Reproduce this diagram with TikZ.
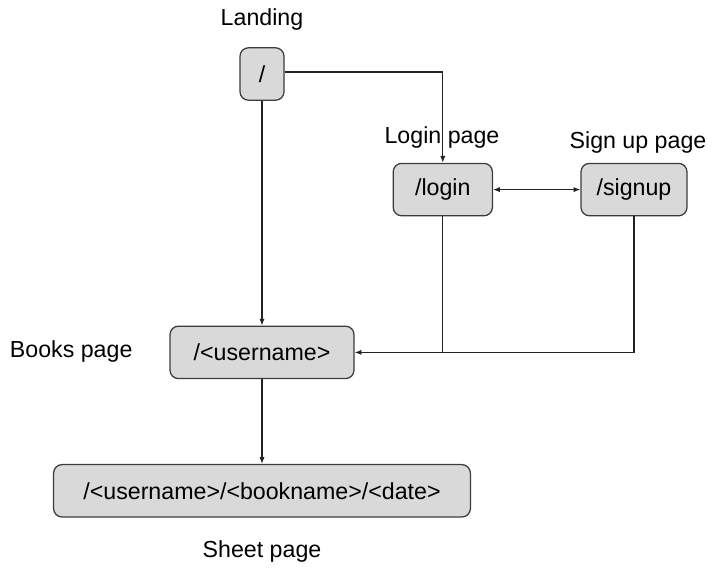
\documentclass[tikz,border=0pt]{standalone}
\usepackage{fontspec}
\setmainfont{Liberation Sans}
\usetikzlibrary{arrows.meta}
\definecolor{pagefill}{HTML}{D9D9D9}
\definecolor{pageborder}{HTML}{3C3C3C}
\definecolor{darkline}{HTML}{222222}
\tikzset{
  card/.style={rectangle, rounded corners=6pt, align=center, fill=pagefill, draw=pageborder, line width=0.9pt, minimum height=1.31cm, inner sep=0pt, font=\fontsize{16.5}{20}\selectfont},
  caption/.style={font=\fontsize{16.5}{20}\selectfont, align=center},
  flow/.style={-{Latex[length=1.7mm, width=1.3mm]}, line width=0.8pt, draw=darkline},
  twoway/.style={{Latex[length=1.7mm, width=1.3mm]}-{Latex[length=1.7mm, width=1.3mm]}, line width=0.8pt, draw=darkline}
}
\begin{document}
\begin{tikzpicture}

\useasboundingbox (0,0) rectangle (17.975,14.4);

% Captions.
\node[caption] (landinglab) at (6.55,13.9) {Landing};
\node[caption] (loginlab) at (11.05,10.95) {Login page};
\node[caption] (signuplab) at (15.95,10.83) {Sign up page};
\node[caption] (bookslab) at (1.78,5.6) {Books page};
\node[caption] (sheetlab) at (6.55,0.6) {Sheet page};

% Pages.
\node[card, minimum width=1.1cm] (root) at (6.55,12.55) {/};
\node[card, minimum width=2.48cm] (login) at (11.07,9.66) {/login};
\node[card, minimum width=2.65cm] (signup) at (15.85,9.66) {/signup};
\node[card, minimum width=4.6cm] (books) at (6.55,5.59) {/<username>};
\node[card, minimum width=10.42cm] (sheet) at (6.55,2.13) {/<username>/<bookname>/<date>};

% Routes.
\draw[flow] ([yshift=0.05cm]root.east) -| (login.north);
\draw[flow] (root.south) -- (books.north);
\draw[twoway] (login.east) -- (signup.west);
\draw[darkline, line width=0.8pt] (login.south) -- (login.south |- books.east);
\draw[flow] (signup.south) |- (books.east);
\draw[flow] (books.south) -- (sheet.north);

\end{tikzpicture}
\end{document}
